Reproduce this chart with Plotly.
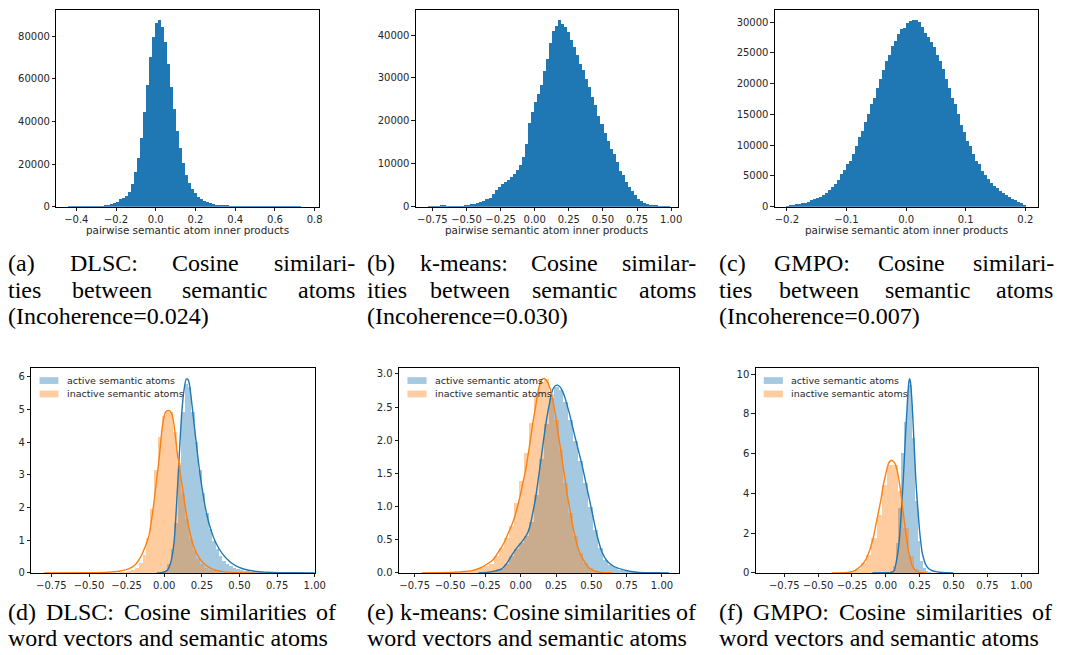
import numpy as np
import plotly.graph_objects as go

W, H = 1070, 655

# ---------------- data ----------------
# Top row: histograms (80 bins) of pairwise semantic atom inner products
a_lo, a_hi = -0.441, 0.762
a_counts = [150, 120, 150, 180, 200, 220, 250, 280, 320, 380,
            450, 550, 700, 900, 1100, 1700, 2300, 3400, 4300,
            5200, 7000, 10850, 16100, 22900, 32200, 44200, 57200, 70200, 79700, 86000,
            87600, 84200, 77000, 67000, 56300, 46000, 35500, 27300, 20600, 15000, 11300,
            8500, 6400, 4650, 3400, 2800, 2200, 1550, 1250, 900, 800,
            700, 650, 600, 550, 500, 450, 420, 400, 380, 350, 330, 300, 280, 260, 240,
            220, 200, 190, 180, 170, 160, 150, 140, 130, 120, 110, 100, 90, 80]

b_lo, b_hi = -0.782, 0.9925
b_counts = [100, 100, 150, 250, 400, 350, 250, 200, 180, 200, 220, 250,
            310, 390, 540, 700, 930, 1160, 1390, 1780, 2080, 3010, 3860,
            4630, 5330, 5790, 6180, 6950, 7570, 8490, 9650, 11580, 14670, 19540,
            22000, 24400, 26250, 28340, 31660, 34360, 38150, 40850, 42085, 43630,
            42700, 41930, 40620, 38760, 37220, 35370, 33360, 31810, 29730, 27800,
            25640, 23700, 21080, 19300, 17140, 15290, 13510, 12360, 10420, 8340,
            7340, 5790, 4630, 3630, 2700, 1780, 1310, 930, 620, 460,
            390, 310, 200, 150, 100, 60]

c_lo, c_hi = -0.2012, 0.2012
c_counts = [161, 215, 269, 376, 484, 538, 645, 806, 1022, 1183,
            1398, 1613, 1882, 2151, 2634, 3226, 3763, 4409, 5269, 6022,
            6882, 7473, 8495, 9946, 11290, 12258, 13710, 15054, 16613, 17742,
            19355, 20806, 22204, 23602, 24731, 26129, 26935, 28065, 28871, 28978,
            29785, 30161, 30376, 30323, 30000, 29247, 28226, 27527, 26774, 25914,
            24677, 23602, 22419, 20699, 19355, 17742, 16667, 15054, 13280, 12097,
            10753, 9839, 8602, 7473, 6882, 5860, 5215, 4570, 3925, 3387,
            3011, 2527, 2151, 1882, 1505, 1183, 1022, 806, 538, 269]

# Bottom row: density histograms (start, bin width, densities) and KDE curves
d_act_start, d_act_width = -0.0256, 0.0229
d_act_dens = [0.02, 0.07, 0.27, 0.73, 1.53, 3.30, 4.92, 5.78, 5.68, 4.92, 4.0, 3.15, 2.44,
              1.84, 1.33, 0.98, 0.73, 0.52, 0.37, 0.27, 0.2, 0.15, 0.11, 0.08, 0.06,
              0.045, 0.035, 0.025, 0.02, 0.015, 0.01]
d_inact_start, d_inact_width = -0.2981, 0.0256
d_inact_dens = [0.015, 0.03, 0.05, 0.09, 0.16, 0.3, 0.55, 1.08, 1.94, 3.15, 4.16, 4.79,
                4.97, 4.92, 4.3, 3.35, 2.45, 1.65, 1.05, 0.68, 0.42, 0.26, 0.15, 0.09,
                0.05, 0.03]
d_act_kde_x = [-0.05, -0.02, 0.0, 0.02, 0.043, 0.065, 0.08, 0.098, 0.116, 0.131, 0.147,
               0.16, 0.176, 0.193, 0.213, 0.231, 0.253, 0.28, 0.309, 0.342, 0.387, 0.442,
               0.498, 0.56, 0.63, 0.72, 0.85, 1.0]
d_act_kde_y = [0.0, 0.01, 0.03, 0.08, 0.32, 0.93, 1.94, 3.45, 4.87, 5.58, 5.93, 5.9, 5.47,
               4.77, 3.96, 3.25, 2.55, 1.84, 1.33, 0.93, 0.58, 0.32, 0.17, 0.08, 0.035,
               0.012, 0.003, 0.0]
d_inact_kde_x = [-0.80, -0.5, -0.37, -0.3, -0.258, -0.22, -0.191, -0.165, -0.147, -0.125,
                 -0.102, -0.085, -0.069, -0.052, -0.035, -0.013, 0.009, 0.031, 0.053,
                 0.071, 0.087, 0.104, 0.12, 0.137, 0.153, 0.17, 0.187, 0.21, 0.231, 0.26,
                 0.298, 0.34, 0.4, 0.5, 0.6]
d_inact_kde_y = [0.0, 0.005, 0.02, 0.05, 0.09, 0.16, 0.26, 0.42, 0.58, 0.82, 1.13, 1.6,
                 2.14, 2.8, 3.45, 4.46, 4.92, 4.97, 4.82, 4.3, 3.65, 3.1, 2.65, 2.1, 1.64,
                 1.25, 0.93, 0.65, 0.47, 0.3, 0.17, 0.08, 0.03, 0.005, 0.0]

e_act_start, e_act_width = -0.222, 0.035
e_act_dens = [0.02, 0.035, 0.06, 0.13, 0.25, 0.36, 0.45, 0.55, 0.76, 1.18, 1.72, 2.25,
              2.64, 2.8, 2.76, 2.58, 2.3, 1.99, 1.68, 1.35, 1.0, 0.65, 0.37, 0.2, 0.12,
              0.085, 0.05, 0.032, 0.018, 0.01, 0.005]
e_inact_start, e_inact_width = -0.502, 0.035
e_inact_dens = [0.005, 0.01, 0.015, 0.025, 0.035, 0.05, 0.08, 0.1, 0.13, 0.26, 0.37, 0.53,
                0.71, 1.06, 1.38, 1.81, 2.26, 2.66, 2.88, 2.92, 2.7, 2.3, 1.85, 1.35, 0.9,
                0.55, 0.3, 0.15, 0.07, 0.03, 0.01]
e_act_kde_x = [-0.3, -0.229, -0.18, -0.135, -0.1, -0.065, -0.04, -0.019, 0.016, 0.051,
               0.07, 0.086, 0.105, 0.121, 0.14, 0.156, 0.175, 0.191, 0.21, 0.226, 0.245,
               0.261, 0.28, 0.296, 0.315, 0.331, 0.35, 0.366, 0.401, 0.436, 0.471, 0.506,
               0.541, 0.576, 0.611, 0.657, 0.727, 0.82, 0.95, 1.05]
e_act_kde_y = [0.0, 0.01, 0.03, 0.06, 0.14, 0.26, 0.34, 0.40, 0.49, 0.61, 0.74, 0.91, 1.12,
               1.36, 1.65, 1.91, 2.2, 2.41, 2.62, 2.76, 2.82, 2.83, 2.8, 2.74, 2.63, 2.51,
               2.36, 2.21, 1.91, 1.61, 1.26, 0.91, 0.56, 0.31, 0.18, 0.10, 0.045, 0.01,
               0.002, 0.0]
e_inact_kde_x = [-0.7, -0.6, -0.46, -0.4, -0.345, -0.31, -0.275, -0.24, -0.205, -0.18,
                 -0.159, -0.135, -0.112, -0.09, -0.065, -0.04, -0.019, 0.0, 0.016, 0.035,
                 0.051, 0.07, 0.086, 0.105, 0.121, 0.135, 0.149, 0.168, 0.191, 0.21,
                 0.226, 0.245, 0.261, 0.28, 0.296, 0.315, 0.331, 0.35, 0.366, 0.385,
                 0.401, 0.425, 0.448, 0.47, 0.494, 0.53, 0.564, 0.65]
e_inact_kde_y = [0.0, 0.003, 0.01, 0.02, 0.035, 0.055, 0.085, 0.13, 0.18, 0.24, 0.31, 0.39,
                 0.48, 0.59, 0.71, 0.86, 1.03, 1.19, 1.36, 1.55, 1.76, 2.02, 2.26, 2.5,
                 2.71, 2.84, 2.91, 2.93, 2.87, 2.76, 2.61, 2.4, 2.16, 1.9, 1.66, 1.4, 1.16,
                 0.93, 0.73, 0.55, 0.41, 0.27, 0.18, 0.11, 0.06, 0.025, 0.01, 0.0]

f_act_start, f_act_width = 0.0117, 0.0202
f_act_dens = [0.05, 0.12, 0.35, 1.5, 3.28, 6.03, 7.6, 9.2, 9.45, 6.78, 3.62, 1.62, 0.6,
              0.25, 0.1, 0.05, 0.02]
f_inact_start, f_inact_width = -0.266, 0.0395
f_inact_dens = [0.05, 0.2, 0.5, 0.9, 1.75, 2.9, 4.4, 5.45, 5.45, 4.1, 2.25, 0.85, 0.2, 0.05]
f_act_kde_x = [-0.1, 0.0, 0.04, 0.06, 0.085, 0.1, 0.109, 0.118, 0.127, 0.137, 0.146, 0.155,
               0.163, 0.17, 0.175, 0.181, 0.187, 0.194, 0.2, 0.207, 0.214, 0.222, 0.231,
               0.24, 0.248, 0.258, 0.268, 0.28, 0.292, 0.315, 0.34, 0.38, 0.414, 0.5]
f_act_kde_y = [0.0, 0.005, 0.02, 0.1, 0.87, 1.7, 2.53, 3.5, 4.53, 5.8, 7.03, 8.1, 9.03, 9.6,
               9.78, 9.65, 9.2, 8.5, 7.7, 6.7, 5.7, 4.6, 3.7, 2.9, 2.2, 1.55, 1.03, 0.7,
               0.45, 0.22, 0.12, 0.05, 0.02, 0.0]
f_inact_kde_x = [-0.4, -0.3, -0.27, -0.23, -0.195, -0.17, -0.146, -0.127, -0.109, -0.09,
                 -0.073, -0.055, -0.036, -0.018, 0.0, 0.012, 0.024, 0.044, 0.058, 0.068,
                 0.08, 0.092, 0.105, 0.117, 0.129, 0.141, 0.153, 0.165, 0.178, 0.19,
                 0.205, 0.219, 0.237, 0.255, 0.3]
f_inact_kde_y = [0.0, 0.005, 0.03, 0.12, 0.28, 0.45, 0.7, 1.0, 1.37, 1.85, 2.45, 3.05, 3.7,
                 4.45, 5.0, 5.35, 5.57, 5.67, 5.6, 5.5, 5.25, 4.87, 4.3, 3.7, 3.0, 2.37,
                 1.75, 1.2, 0.78, 0.45, 0.25, 0.12, 0.05, 0.02, 0.0]

# Tick labels
xt_a = [-0.4, -0.2, 0.0, 0.2, 0.4, 0.6, 0.8]
xt_a_lab = ["\u22120.4", "\u22120.2", "0.0", "0.2", "0.4", "0.6", "0.8"]
xt_q = [-0.75, -0.5, -0.25, 0.0, 0.25, 0.5, 0.75, 1.0]
xt_q_lab = ["\u22120.75", "\u22120.50", "\u22120.25", "0.00", "0.25", "0.50", "0.75", "1.00"]
xt_c = [-0.2, -0.1, 0.0, 0.1, 0.2]
xt_c_lab = ["\u22120.2", "\u22120.1", "0.0", "0.1", "0.2"]
yt_a = [0, 20000, 40000, 60000, 80000]
yt_b = [0, 10000, 20000, 30000, 40000]
yt_c = [0, 5000, 10000, 15000, 20000, 25000, 30000]
yt_d = [0, 1, 2, 3, 4, 5, 6]
yt_e = [0.0, 0.5, 1.0, 1.5, 2.0, 2.5, 3.0]
yt_e_lab = ["0.0", "0.5", "1.0", "1.5", "2.0", "2.5", "3.0"]
yt_f = [0, 2, 4, 6, 8, 10]

xlabel_top = "pairwise semantic atom inner products"
legend_labels = ["active semantic atoms", "inactive semantic atoms"]

top_captions = [
    (["(a)", "DLSC:", "Cosine", "similari-"], ["ties", "between", "semantic", "atoms"], "(Incoherence=0.024)"),
    (["(b)", "k-means:", "Cosine", "similar-"], ["ities", "between", "semantic", "atoms"], "(Incoherence=0.030)"),
    (["(c)", "GMPO:", "Cosine", "similari-"], ["ties", "between", "semantic", "atoms"], "(Incoherence=0.007)"),
]
bottom_captions = [
    ("(d) DLSC: Cosine similarities of", "word vectors and semantic atoms"),
    ("(e) k-means: Cosine similarities of", "word vectors and semantic atoms"),
    ("(f) GMPO: Cosine similarities of", "word vectors and semantic atoms"),
]

# ---------------- layout geometry (pixels of a 1070x655 page) ----------------
boxes = [
    (57.0, 322.0, 10.5, 208.3),
    (420.3, 685.0, 10.5, 208.3),
    (783.0, 1048.3, 10.5, 208.3),
    (31.7, 318.3, 370.7, 577.3),
    (403.3, 686.0, 370.7, 577.3),
    (763.7, 1048.3, 370.7, 577.3),
]
xranges = [[-0.5, 0.82], [-0.87, 1.05], [-0.22, 0.2205], [-0.883, 1.002], [-0.86, 1.12], [-0.96, 1.12]]
yranges = [[0, 92000], [0, 45750], [0, 31900], [0, 6.27], [0, 3.09], [0, 10.32]]

BLUE = "#1f77b4"
ORANGE = "#ff7f0e"
BLUE_A = "rgba(31,119,180,0.4)"
ORANGE_A = "rgba(255,127,14,0.4)"
SANS = "DejaVu Sans, Bitstream Vera Sans, Verdana, sans-serif"
SERIF = "Liberation Serif, Times New Roman, Tinos, Times, serif"

fig = go.Figure()


def axn(k):
    return ("x" if k == 1 else f"x{k}"), ("y" if k == 1 else f"y{k}")


def add_hist_edges(k, edges, vals, color):
    edges = np.asarray(edges)
    centers = (edges[:-1] + edges[1:]) / 2
    widths = edges[1:] - edges[:-1]
    xa, ya = axn(k)
    fig.add_trace(go.Bar(x=centers, y=vals, width=widths, marker=dict(color=color, line=dict(width=0)),
                         xaxis=xa, yaxis=ya, showlegend=False, hoverinfo="skip"))


def add_density(k, start, width, vals, color):
    edges = start + width * np.arange(len(vals) + 1)
    add_hist_edges(k, edges, vals, color)


def add_kde(k, xs, ys, color):
    xa, ya = axn(k)
    fig.add_trace(go.Scatter(x=xs, y=ys, mode="lines", line=dict(color=color, width=1.4, shape="spline", smoothing=0.7),
                             xaxis=xa, yaxis=ya, showlegend=False, hoverinfo="skip"))


add_hist_edges(1, np.linspace(a_lo, a_hi, len(a_counts) + 1), a_counts, BLUE)
add_hist_edges(2, np.linspace(b_lo, b_hi, len(b_counts) + 1), b_counts, BLUE)
add_hist_edges(3, np.linspace(c_lo, c_hi, len(c_counts) + 1), c_counts, BLUE)

add_density(4, d_act_start, d_act_width, d_act_dens, BLUE_A)
add_kde(4, d_act_kde_x, d_act_kde_y, BLUE)
add_density(4, d_inact_start, d_inact_width, d_inact_dens, ORANGE_A)
add_kde(4, d_inact_kde_x, d_inact_kde_y, ORANGE)

add_density(5, e_act_start, e_act_width, e_act_dens, BLUE_A)
add_kde(5, e_act_kde_x, e_act_kde_y, BLUE)
add_density(5, e_inact_start, e_inact_width, e_inact_dens, ORANGE_A)
add_kde(5, e_inact_kde_x, e_inact_kde_y, ORANGE)

add_density(6, f_act_start, f_act_width, f_act_dens, BLUE_A)
add_kde(6, f_act_kde_x, f_act_kde_y, BLUE)
add_density(6, f_inact_start, f_inact_width, f_inact_dens, ORANGE_A)
add_kde(6, f_inact_kde_x, f_inact_kde_y, ORANGE)

tickfont = dict(family=SANS, size=10, color="#262626")
xticks = [(xt_a, xt_a_lab), (xt_q, xt_q_lab), (xt_c, xt_c_lab), (xt_q, xt_q_lab), (xt_q, xt_q_lab), (xt_q, xt_q_lab)]
yticks = [(yt_a, [str(v) for v in yt_a]), (yt_b, [str(v) for v in yt_b]), (yt_c, [str(v) for v in yt_c]),
          (yt_d, [str(v) for v in yt_d]), (yt_e, yt_e_lab), (yt_f, [str(v) for v in yt_f])]

# The figure fills the whole page (positions are fractions of the page)
layout = dict(autosize=True, margin=dict(l=0, r=0, t=0, b=0, pad=0),
              paper_bgcolor="white", plot_bgcolor="white", barmode="overlay", bargap=0,
              showlegend=False)
common = dict(showline=True, mirror=True, linecolor="black", linewidth=1, ticks="outside",
              ticklen=3.5, tickwidth=0.9, tickcolor="black", showgrid=False, zeroline=False,
              tickfont=tickfont, fixedrange=True)
for i, box in enumerate(boxes):
    k = i + 1
    l, r, t, b = box
    xs = "xaxis" if k == 1 else f"xaxis{k}"
    ys = "yaxis" if k == 1 else f"yaxis{k}"
    xa, ya = axn(k)
    layout[xs] = dict(domain=[l / W, r / W], range=xranges[i], anchor=ya,
                      tickmode="array", tickvals=xticks[i][0], ticktext=xticks[i][1], **common)
    layout[ys] = dict(domain=[1 - b / H, 1 - t / H], range=yranges[i], anchor=xa,
                      tickmode="array", tickvals=yticks[i][0], ticktext=yticks[i][1], **common)
fig.update_layout(**layout)

annotations = []
shapes = []


def ann(text, x, y, size, family, xanchor="left", color="black"):
    annotations.append(dict(text=text, x=x / W, y=1 - y / H, xref="paper", yref="paper",
                            xanchor=xanchor, yanchor="middle", showarrow=False, borderpad=0,
                            font=dict(family=family, size=size, color=color)))


# x labels of the top row
for i in range(3):
    l, r, t, b = boxes[i]
    ann(xlabel_top, (l + r) / 2, 231.5, 10.4, SANS, xanchor="center", color="#262626")

# legends in the bottom row
legend_geo = [(40.0, 59.0, 66.7), (411.7, 431.0, 438.3), (771.7, 791.0, 798.3)]
for (p0, p1, tx) in legend_geo:
    for j, (lab, col) in enumerate(zip(legend_labels, [BLUE_A, ORANGE_A])):
        yc = 383.5 + j * 13.5
        shapes.append(dict(type="rect", xref="paper", yref="paper", x0=p0 / W, x1=p1 / W,
                           y0=1 - (yc + 3.4) / H, y1=1 - (yc - 3.4) / H,
                           fillcolor=col, line=dict(width=0), layer="above"))
        ann(lab, tx, yc, 9.5, SANS, color="#262626")

# captions (Times metrics for justification)
TW = {' ': 250, '(': 333, ')': 333, '-': 333, '.': 250, ':': 278, '=': 564,
      'A': 722, 'B': 667, 'C': 667, 'D': 722, 'E': 611, 'F': 556, 'G': 722, 'H': 722, 'I': 333,
      'K': 722, 'L': 611, 'M': 889, 'N': 722, 'O': 722, 'P': 556, 'S': 556, 'T': 611,
      'a': 444, 'b': 500, 'c': 444, 'd': 500, 'e': 444, 'f': 333, 'g': 500, 'h': 500, 'i': 278,
      'k': 500, 'l': 278, 'm': 778, 'n': 500, 'o': 500, 'r': 333, 's': 389, 't': 278, 'u': 500,
      'v': 500, 'w': 722, 'y': 500}
CAP = 24


def tw(s):
    return sum(TW.get(ch, 500) for ch in s) * CAP / 1000.0


def justified(words, x0, x1, y):
    ws = [tw(w) for w in words]
    gap = (x1 - x0 - sum(ws)) / (len(words) - 1)
    x = x0
    for w, wd in zip(words, ws):
        ann(w, x, y, CAP, SERIF)
        x += wd + gap


top_cols = [(7, 357), (370, 702), (725, 1063)]
for (x0, x1), (l1, l2, l3) in zip(top_cols, top_captions):
    justified(l1, x0, x1, 265.5)
    justified(l2, x0, x1, 292.0)
    ann(l3, x0, 318.5, CAP, SERIF)

bot_cols = [(7, 338), (370, 702), (725, 1062)]
for (x0, x1), (l1, l2) in zip(bot_cols, bottom_captions):
    justified(l1.split(" "), x0, x1, 617.0)
    ann(l2, x0, 643.0, CAP, SERIF)

fig.update_layout(annotations=annotations, shapes=shapes)
fig.write_html(
    "out.html",
    default_width="100vw",
    default_height="100vh",
    config={"displayModeBar": False, "staticPlot": True, "responsive": True},
    post_script=("document.documentElement.style.margin='0';document.body.style.margin='0';"
                 "document.body.style.padding='0';document.body.style.overflow='hidden';"
                 "document.documentElement.style.overflow='hidden';"
                 "var gd=document.getElementById('{plot_id}');gd.style.position='absolute';"
                 "gd.style.left='0';gd.style.top='0';Plotly.Plots.resize(gd);"),
)
